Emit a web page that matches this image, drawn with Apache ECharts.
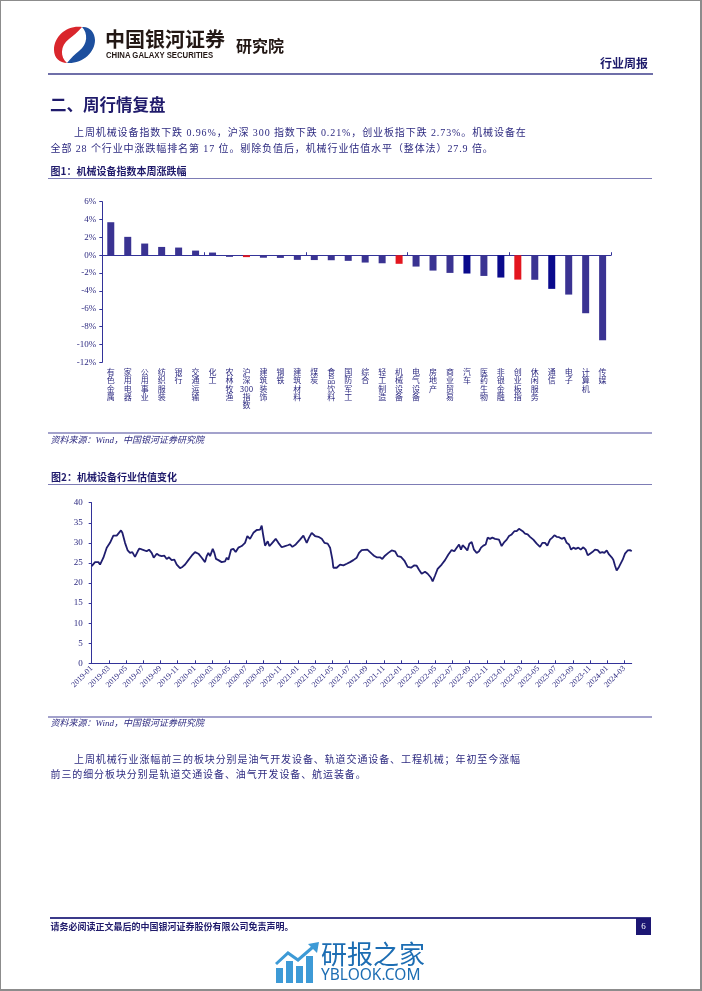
<!DOCTYPE html>
<html><head><meta charset="utf-8">
<script src="https://cdn.jsdelivr.net/npm/echarts/dist/echarts.min.js"></script>
<style>
html,body{margin:0;padding:0;background:#fff;}
#page{position:relative;width:702px;height:991px;overflow:hidden;background:#fff;}
#frame{position:absolute;left:0;top:0;width:702px;height:991px;box-sizing:border-box;border:1px solid #8c8c8c;border-right-width:2px;border-bottom-width:2px;z-index:6;pointer-events:none;}
#chart{position:absolute;left:0;top:0;width:702px;height:991px;z-index:1;}
.t{position:absolute;white-space:nowrap;font-family:"Liberation Serif","Noto Sans CJK SC",serif;z-index:3;color:#2d2a80;}
.body{font-size:10px;line-height:10px;height:10px;letter-spacing:0.9px;}
.cap{font-family:"Noto Sans CJK SC",sans-serif;font-weight:bold;font-size:10px;line-height:10px;color:#1f1a6b;}
.src{font-size:9px;line-height:9px;font-style:italic;color:#2d2a80;}
.rule{position:absolute;z-index:3;}
</style></head>
<body><div id="page">
<div id="chart"></div>

<!-- header logo -->
<svg style="position:absolute;left:51px;top:24px;z-index:3" width="46" height="40" viewBox="0 0 46 40">
  <path d="M31 3 C16 1 3 12 3 26 C3 34 9 39 16 39 C9 33 9 22 18 15 C22 12 27 8 31 3 Z" fill="#d9262c"/>
  <path d="M16 39 C31 40 44 29 44 16 C44 8 38 2 31 3 C37 9 37 20 28 27 C24 30 20 34 16 39 Z" fill="#1d4f9e"/>
</svg>
<div class="t" style="left:105px;top:29px;font-family:'Noto Sans CJK SC',sans-serif;font-weight:bold;font-size:20px;line-height:20px;color:#231815;">中国银河证券</div>
<div class="t" style="left:106px;top:51px;font-family:'Liberation Sans',sans-serif;font-weight:bold;font-size:9px;line-height:9px;color:#231815;transform:scaleX(0.86);transform-origin:left top;">CHINA GALAXY SECURITIES</div>
<div class="t" style="left:236px;top:37px;font-family:'Noto Sans CJK SC',sans-serif;font-weight:bold;font-size:16px;line-height:16px;color:#231815;">研究院</div>
<div class="t" style="left:600px;top:57px;font-family:'Noto Sans CJK SC',sans-serif;font-weight:bold;font-size:12px;line-height:12px;color:#1d1a6b;">行业周报</div>
<div class="rule" style="left:48px;top:73px;width:605px;height:2px;background:#6f6fa9;"></div>

<div class="t" style="left:50px;top:96px;font-family:'Noto Sans CJK SC',sans-serif;font-weight:bold;font-size:16.5px;line-height:17px;color:#1f1a6b;">二、周行情复盘</div>
<div class="t body" style="left:74px;top:128px;">上周机械设备指数下跌 0.96%，沪深 300 指数下跌 0.21%，创业板指下跌 2.73%。机械设备在</div>
<div class="t body" style="left:50.5px;top:143.5px;">全部 28 个行业中涨跌幅排名第 17 位。剔除负值后，机械行业估值水平（整体法）27.9 倍。</div>

<div class="t cap" style="left:50.5px;top:165.5px;">图1：机械设备指数本周涨跌幅</div>
<div class="rule" style="left:48px;top:178px;width:604px;height:1px;background:#7d7cb5;"></div>
<div class="rule" style="left:48px;top:432px;width:604px;height:1.5px;background:#a3a2cc;"></div>
<div class="t src" style="left:50.5px;top:435.5px;">资料来源：Wind，中国银河证券研究院</div>

<div class="t cap" style="left:51px;top:471.5px;">图2：机械设备行业估值变化</div>
<div class="rule" style="left:48px;top:484px;width:604px;height:1px;background:#7d7cb5;"></div>
<div class="rule" style="left:48px;top:716px;width:604px;height:1.5px;background:#a3a2cc;"></div>
<div class="t src" style="left:50.5px;top:719px;">资料来源：Wind，中国银河证券研究院</div>

<div class="t body" style="left:74px;top:755px;">上周机械行业涨幅前三的板块分别是油气开发设备、轨道交通设备、工程机械；年初至今涨幅</div>
<div class="t body" style="left:50.5px;top:770px;">前三的细分板块分别是轨道交通设备、油气开发设备、航运装备。</div>

<!-- footer -->
<div class="rule" style="left:50px;top:917px;width:601px;height:1.5px;background:#3b3a8a;"></div>
<div class="t" style="left:50.5px;top:922px;font-family:'Noto Sans CJK SC',sans-serif;font-weight:bold;font-size:9px;line-height:9px;color:#1f1a6b;">请务必阅读正文最后的中国银河证券股份有限公司免责声明。</div>
<div class="t" style="left:636px;top:918px;width:15px;height:17px;background:#1c1673;color:#fff;font-size:9px;line-height:17px;text-align:center;">6</div>

<!-- watermark -->
<svg style="position:absolute;left:275px;top:942px;z-index:3" width="46" height="42" viewBox="0 0 46 42">
  <rect x="1" y="26" width="7" height="15" fill="#3d9ad6"/>
  <rect x="11" y="19" width="7" height="22" fill="#3d9ad6"/>
  <rect x="21" y="24" width="7" height="17" fill="#3d9ad6"/>
  <rect x="31" y="14" width="7" height="27" fill="#3d9ad6"/>
  <polyline points="1,22 13,11 23,18 38,5" fill="none" stroke="#3d9ad6" stroke-width="3"/>
  <polygon points="33,2 44,0 42,11" fill="#3d9ad6"/>
</svg>
<div class="t" style="left:321px;top:940px;font-family:'Noto Sans CJK SC',sans-serif;font-size:26px;line-height:26px;color:#1c6db3;">研报之家</div>
<div class="t" style="left:321px;top:966px;font-family:'Noto Sans',sans-serif;font-size:15.5px;line-height:16px;color:#1c6db3;">YBLOOK.COM</div>

<div id="frame"></div>
</div>
<script>
// ---------- Figure 1: weekly change by industry (%) ----------
const barCategories = ['有色金属','家用电器','公用事业','纺织服装','银行','交通运输','化工','农林牧渔','沪深300指数','建筑装饰','钢铁','建筑材料','煤炭','食品饮料','国防军工','综合','轻工制造','机械设备','电气设备','房地产','商业贸易','汽车','医药生物','非银金融','创业板指','休闲服务','通信','电子','计算机','传媒'];
const barValues = [3.70,2.06,1.31,0.93,0.86,0.52,0.30,-0.18,-0.21,-0.28,-0.30,-0.52,-0.54,-0.56,-0.63,-0.82,-0.90,-0.96,-1.27,-1.72,-1.98,-2.05,-2.32,-2.50,-2.73,-2.75,-3.77,-4.41,-6.50,-9.53];
const highlightRed = ['沪深300指数','机械设备','创业板指'];
const highlightDark = ['汽车','非银金融','通信'];

// ---------- Figure 2: valuation (PE) over time ----------
// x = months since 2019-01
const peMonths = [
0,0.39,0.78,0.97,1.36,1.75,2.13,2.52,2.91,3.10,
3.41,3.57,3.88,4.19,4.46,4.73,5.04,5.36,5.55,5.90,
6.13,6.40,6.67,6.98,7.22,7.57,7.84,8.15,8.46,8.73,
9.00,9.31,9.62,9.90,10.28,10.56,10.87,11.25,11.64,12.03,
12.42,12.81,13.19,13.39,13.58,13.78,14.09,14.28,14.47,14.75,
15.13,15.52,15.72,15.91,16.22,16.49,16.76,17.07,17.46,17.85,
18.12,18.43,18.82,19.21,19.40,19.60,19.79,19.98,20.18,20.49,
20.68,20.95,21.15,21.42,21.73,22.12,22.51,22.82,23.09,23.36,
23.75,24.25,24.64,25.03,25.30,25.61,26.00,26.39,26.78,27.09,
27.47,27.75,28.02,28.13,28.52,28.91,29.30,29.69,30.07,30.46,
30.85,31.12,31.43,31.62,32.09,32.32,32.59,32.86,33.17,33.56,
33.83,34.14,34.53,34.92,35.31,35.62,36.00,36.39,36.78,37.17,
37.56,37.83,38.10,38.41,38.80,39.11,39.50,39.69,39.96,40.27,
40.74,41.13,41.52,41.90,42.21,42.49,42.76,42.99,43.18,43.46,
43.73,43.96,44.23,44.50,44.81,45.09,45.32,45.59,45.86,46.09,
46.37,46.64,46.95,47.14,47.41,47.72,48.03,48.31,48.58,48.89,
49.20,49.47,49.74,49.97,50.17,50.44,50.75,51.02,51.41,51.80,
52.19,52.46,52.77,53.04,53.35,53.62,53.86,54.13,54.40,54.71,
55.02,55.29,55.56,55.80,56.07,56.34,56.65,56.92,57.23,57.50,
57.74,58.01,58.28,58.59,58.90,59.17,59.44,59.68,59.95,60.22,
60.53,60.72,60.92,61.11,61.38,61.58,61.81,62.08,62.39,62.66,
62.86];
const peValues = [
24.2,25.2,25.2,24.6,26.3,28.8,30.0,31.8,31.8,32.1,
33.1,32.5,30.0,28.1,27.5,27.7,26.5,27.9,28.6,28.3,
28.6,27.9,28.3,27.5,26.3,27.3,26.9,26.7,26.8,26.0,
26.4,25.7,25.8,24.6,23.7,24.0,24.6,25.7,26.8,27.7,
27.3,26.3,25.2,26.7,27.5,26.7,28.5,27.5,26.0,25.7,
25.2,25.4,26.3,25.8,28.3,28.5,27.7,28.8,29.2,30.0,
31.7,31.0,32.5,33.2,33.2,33.3,34.3,31.7,29.3,30.4,
29.2,29.8,30.0,31.0,30.0,28.9,29.2,29.4,29.6,29.0,
29.6,30.8,31.8,30.0,31.3,32.5,31.7,31.5,31.0,30.0,
29.8,28.8,25.8,23.8,23.8,24.6,24.4,24.8,25.2,25.7,
26.3,27.5,28.2,28.3,28.3,28.1,27.3,26.8,26.4,26.4,
26.0,26.8,27.5,28.1,27.9,26.7,26.5,25.6,24.0,23.8,
24.4,24.3,23.3,22.3,22.8,22.3,21.3,20.4,21.8,23.5,
24.6,25.7,27.1,28.2,27.9,28.8,29.6,28.3,29.4,28.8,
28.1,29.8,30.2,28.3,27.5,27.9,28.8,29.3,29.6,31.3,
31.0,31.3,31.0,31.4,30.8,29.2,30.2,30.8,31.7,32.1,
32.9,32.9,33.5,33.8,32.9,32.3,32.1,31.5,30.8,29.8,
29.0,30.0,30.0,29.3,30.8,31.3,31.9,31.5,31.4,31.0,
31.3,30.0,29.6,28.3,28.8,28.5,28.8,28.3,28.9,28.3,
26.9,27.3,27.7,28.3,28.2,27.5,27.7,27.5,28.1,27.1,
26.4,25.8,24.3,23.1,24.0,24.3,25.8,27.3,28.1,28.2,
27.9];
const peTickLabels = ['2019-01','2019-03','2019-05','2019-07','2019-09','2019-11',
'2020-01','2020-03','2020-05','2020-07','2020-09','2020-11',
'2021-01','2021-03','2021-05','2021-07','2021-09','2021-11',
'2022-01','2022-03','2022-05','2022-07','2022-09','2022-11',
'2023-01','2023-03','2023-05','2023-07','2023-09','2023-11',
'2024-01','2024-03'];
const peAxisEnd = 62.86;

const NAVY = '#333399';
const TXT = '#2d2a80';
function barColor(name){
  if (highlightRed.indexOf(name) >= 0) return '#e3161f';
  if (highlightDark.indexOf(name) >= 0) return '#0a0a8c';
  return '#3a3392';
}
const tickVals = peTickLabels.map((_, i) => i * 2);

const chart = echarts.init(document.getElementById('chart'), null, {renderer:'canvas'});
chart.setOption({
  animation:false,
  backgroundColor:'transparent',
  grid:[
    {left:102.3, top:201.7, width:508.8, height:160.6},
    {left:91.7, top:502.7, width:540, height:160.6}
  ],
  xAxis:[
    {gridIndex:0, type:'category', data:barCategories, position:'bottom',
     axisLine:{show:true, onZero:true, lineStyle:{color:NAVY, width:1}},
     axisTick:{show:true, inside:true, length:3, lineStyle:{color:NAVY}},
     axisLabel:{show:false}, splitLine:{show:false}},
    {gridIndex:0, type:'category', data:barCategories, position:'bottom',
     axisLine:{show:false, onZero:false}, axisTick:{show:false}, splitLine:{show:false},
     axisLabel:{interval:0, margin:5.5, fontSize:8, lineHeight:8.3, color:TXT,
       fontFamily:'Noto Sans CJK SC', verticalAlign:'top', align:'center',
       formatter:function(v){ return (v.match(/\d+|./g) || []).join('\n'); }}},
    {gridIndex:1, type:'value', min:0, max:peAxisEnd, interval:2,
     axisLine:{show:true, onZero:false, lineStyle:{color:NAVY, width:1}},
     axisTick:{show:true, inside:true, length:3, customValues:tickVals, lineStyle:{color:NAVY}},
     splitLine:{show:false},
     axisLabel:{rotate:45, margin:4, fontSize:8, color:TXT, fontFamily:'Liberation Serif',
       customValues:tickVals,
       formatter:function(v){ const i = Math.round(v/2); return (Math.abs(v - i*2) < 1e-6 && peTickLabels[i]) ? peTickLabels[i] : ''; }}}
  ],
  yAxis:[
    {gridIndex:0, type:'value', min:-12, max:6, interval:2,
     axisLine:{show:true, lineStyle:{color:NAVY, width:1}},
     axisTick:{show:true, length:3, lineStyle:{color:NAVY}},
     splitLine:{show:false},
     axisLabel:{formatter:'{value}%', fontSize:9, margin:6, color:TXT, fontFamily:'Liberation Serif'}},
    {gridIndex:1, type:'value', min:0, max:40, interval:5,
     axisLine:{show:true, lineStyle:{color:NAVY, width:1}},
     axisTick:{show:true, length:3, lineStyle:{color:NAVY}},
     splitLine:{show:false},
     axisLabel:{fontSize:9, margin:9, color:TXT, fontFamily:'Liberation Serif'}}
  ],
  series:[
    {type:'bar', xAxisIndex:0, yAxisIndex:0, barWidth:7,
     data: barValues.map((v,i) => ({value:v, itemStyle:{color:barColor(barCategories[i])}}))},
    {type:'line', xAxisIndex:2, yAxisIndex:1, showSymbol:false, symbol:'none',
     lineStyle:{color:'#1f1d6e', width:1.8},
     data: peMonths.map((m,i) => [m, peValues[i]])}
  ]
});
</script>
</body></html>
